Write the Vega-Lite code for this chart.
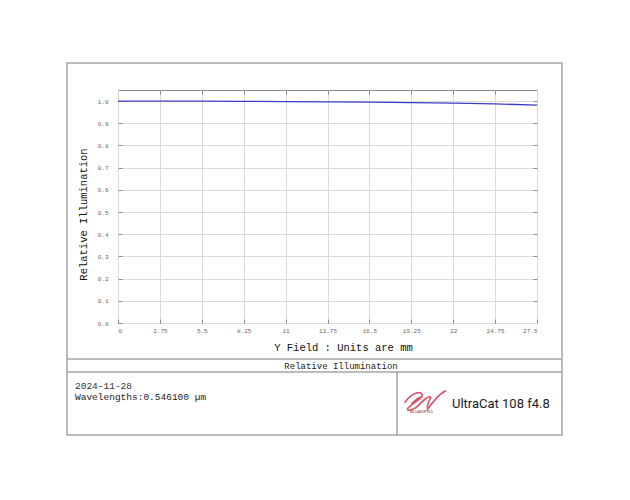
{
  "$schema": "https://vega.github.io/schema/vega-lite/v6.json",
  "autosize": {"type": "none"},
  "width": 419,
  "height": 233,
  "padding": {"left": 118, "top": 90, "right": 93, "bottom": 177},
  "background": "white",
  "config": {
    "view": {"stroke": "#8a8a8a", "strokeWidth": 1},
    "font": "Liberation Mono"
  },
  "data": {"values": [
    {"field": 0, "ri": 1.0},
    {"field": 2.75, "ri": 0.9999},
    {"field": 5.5, "ri": 0.9995},
    {"field": 8.25, "ri": 0.9988},
    {"field": 11, "ri": 0.9978},
    {"field": 13.75, "ri": 0.9966},
    {"field": 16.5, "ri": 0.995},
    {"field": 19.25, "ri": 0.993},
    {"field": 22, "ri": 0.9905},
    {"field": 24.75, "ri": 0.9875},
    {"field": 27.5, "ri": 0.982}
  ]},
  "resolve": {"axis": {"x": "independent", "y": "independent"}},
  "layer": [
    {
      "mark": {"type": "line", "color": "#3c3cc8", "strokeWidth": 1.3, "clip": true},
      "encoding": {
        "x": {"field": "field", "type": "quantitative",
          "scale": {"domain": [0, 27.5], "nice": false, "zero": false},
          "axis": {"orient": "bottom", "values": [0, 2.75, 5.5, 8.25, 11, 13.75, 16.5, 19.25, 22, 24.75, 27.5],
            "labelExpr": "datum.value", "grid": true, "gridColor": "#dadada", "gridWidth": 1,
            "domain": false, "ticks": true, "tickSize": -4, "tickColor": "#8a8a8a",
            "labelFontSize": 6, "labelColor": "#666666", "labelPadding": 8, "labelFont": "Liberation Mono",
            "title": "Y Field : Units are mm", "titleFont": "Liberation Mono", "titleFontSize": 10.5,
            "titleFontWeight": "normal", "titleColor": "#111111", "titleX": 225, "titleY": 24, "titleBaseline": "middle"}},
        "y": {"field": "ri", "type": "quantitative",
          "scale": {"domain": [0, 1.05], "nice": false, "zero": false},
          "axis": {"orient": "left", "values": [0, 0.1, 0.2, 0.3, 0.4, 0.5, 0.6, 0.7, 0.8, 0.9, 1.0],
            "format": ".1f", "grid": true, "gridColor": "#dadada", "gridWidth": 1,
            "domain": false, "ticks": true, "tickSize": -4, "tickColor": "#8a8a8a",
            "labelFontSize": 6, "labelColor": "#666666", "labelPadding": 14, "labelFont": "Liberation Mono",
            "title": "Relative Illumination", "titleFont": "Liberation Mono", "titleFontSize": 10.5,
            "titleFontWeight": "normal", "titleColor": "#111111", "titleX": -35, "titleY": 124, "titleBaseline": "middle", "titleAngle": 270}}
      }
    },
    {
      "data": {"values": [{}]},
      "mark": {"type": "point", "opacity": 0},
      "encoding": {
        "x": {"datum": 0, "type": "quantitative",
          "axis": {"orient": "top", "values": [2.75, 5.5, 8.25, 11, 13.75, 16.5, 19.25, 22, 24.75],
            "labels": false, "grid": false, "domain": false, "ticks": true, "tickSize": -4, "tickColor": "#8a8a8a", "title": null}},
        "y": {"datum": 0, "type": "quantitative",
          "axis": {"orient": "right", "values": [0.1, 0.2, 0.3, 0.4, 0.5, 0.6, 0.7, 0.8, 0.9, 1.0],
            "labels": false, "grid": false, "domain": false, "ticks": true, "tickSize": -4, "tickColor": "#8a8a8a", "title": null}}
      }
    },
    {
      "data": {"values": [{}]},
      "mark": {"type": "rect", "fillOpacity": 0, "stroke": "#a5a5a5", "strokeWidth": 1.5},
      "encoding": {
        "x": {"datum": -3.347, "axis": null}, "x2": {"datum": 29.14},
        "y": {"datum": 1.1717, "axis": null}, "y2": {"datum": -0.5047}
      }
    },
    {
      "data": {"values": [{}]},
      "mark": {"type": "rule", "stroke": "#a5a5a5", "strokeWidth": 1.5},
      "encoding": {"x": {"datum": -3.347, "axis": null}, "x2": {"datum": 29.14}, "y": {"datum": -0.1622, "axis": null}}
    },
    {
      "data": {"values": [{}]},
      "mark": {"type": "rule", "stroke": "#a5a5a5", "strokeWidth": 1.5},
      "encoding": {"x": {"datum": -3.347, "axis": null}, "x2": {"datum": 29.14}, "y": {"datum": -0.2208, "axis": null}}
    },
    {
      "data": {"values": [{}]},
      "mark": {"type": "rule", "stroke": "#a5a5a5", "strokeWidth": 1.5},
      "encoding": {"x": {"datum": 18.31, "axis": null}, "y": {"datum": -0.2208, "axis": null}, "y2": {"datum": -0.5047}}
    },
    {
      "data": {"values": [{}]},
      "mark": {"type": "text", "font": "Liberation Mono", "fontSize": 9, "color": "#222222", "align": "center", "baseline": "middle"},
      "encoding": {"x": {"datum": 14.64, "axis": null}, "y": {"datum": -0.1938, "axis": null}, "text": {"value": "Relative Illumination"}}
    },
    {
      "data": {"values": [{}]},
      "mark": {"type": "text", "font": "Liberation Mono", "fontSize": 9.5, "color": "#333333", "align": "left", "baseline": "middle"},
      "encoding": {"x": {"datum": -2.822, "axis": null}, "y": {"datum": -0.284, "axis": null}, "text": {"value": "2024-11-28"}}
    },
    {
      "data": {"values": [{}]},
      "mark": {"type": "text", "font": "Liberation Mono", "fontSize": 9.5, "color": "#222222", "align": "left", "baseline": "middle"},
      "encoding": {"x": {"datum": -2.822, "axis": null}, "y": {"datum": -0.3335, "axis": null}, "text": {"value": "Wavelengths:0.546100 µm"}}
    },
    {
      "data": {"values": [{}]},
      "mark": {"type": "text", "font": "Roboto", "fontSize": 13, "color": "#1a1a1a", "align": "left", "baseline": "middle"},
      "encoding": {"x": {"datum": 21.92, "axis": null}, "y": {"datum": -0.365, "axis": null}, "text": {"value": "UltraCat 108 f4.8"}}
    },
    {
      "data": {"values": [{}]},
      "mark": {"type": "point", "filled": false, "stroke": "#c8102e", "strokeWidth": 1.6, "size": 1900,
        "shape": "M -0.9 0.05 C -0.6 -0.4 -0.2 -0.5 -0.1 -0.35 C 0 -0.2 -0.6 0.1 -0.75 0.3 C -0.85 0.45 -0.5 0.4 -0.3 0.2 C 0 -0.1 0.2 -0.3 0.3 -0.2 C 0.2 0 0.1 0.2 0.15 0.35 C 0.4 0 0.7 -0.4 1 -0.5 M -0.6 0.1 C -0.3 -0.15 -0.15 -0.3 -0.2 -0.1"},
      "encoding": {"x": {"datum": 20.1, "axis": null}, "y": {"datum": -0.355, "axis": null}}
    },
    {
      "data": {"values": [{}]},
      "mark": {"type": "text", "font": "Roboto", "fontSize": 3, "color": "#7a1020", "align": "center", "baseline": "middle"},
      "encoding": {"x": {"datum": 19.9, "axis": null}, "y": {"datum": -0.398, "axis": null}, "text": {"value": "WILLIAM OPTICS"}}
    }
  ]
}
